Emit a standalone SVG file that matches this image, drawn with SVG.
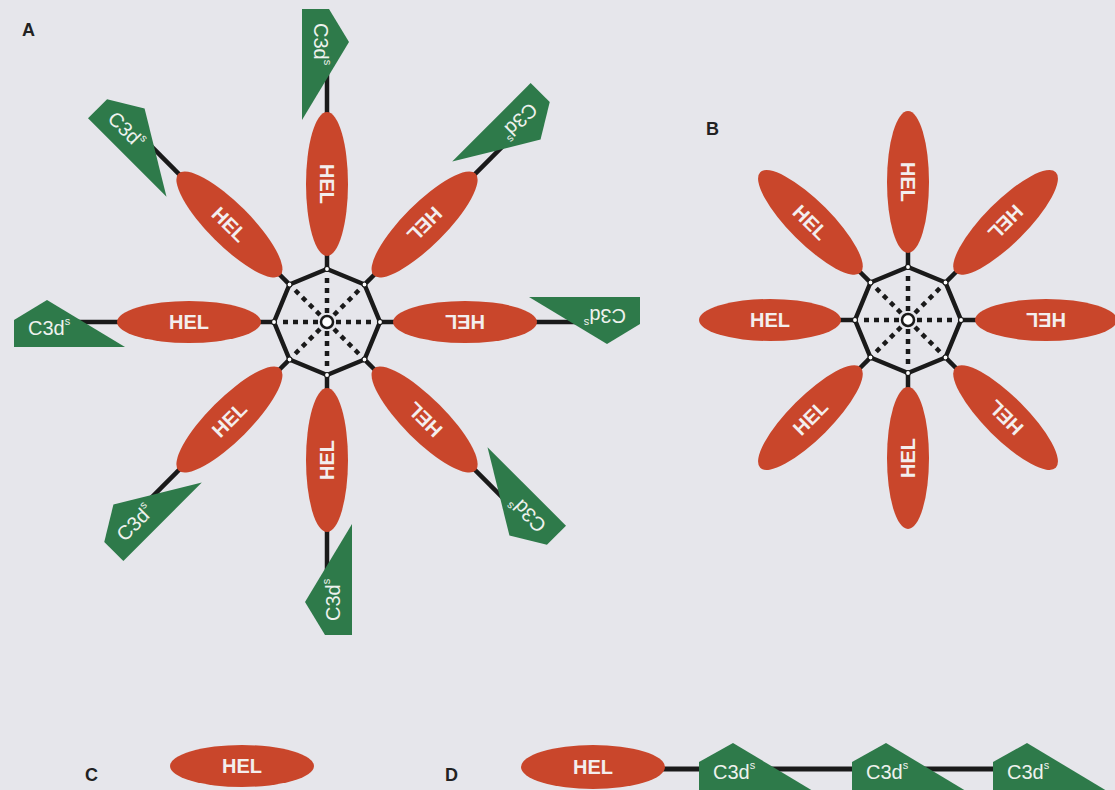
<svg xmlns="http://www.w3.org/2000/svg" width="1115" height="790" viewBox="0 0 1115 790">
<style>
.bg{fill:#e6e6eb}
.hel{fill:#c9462b}
.tag{fill:#2e7a4a}
.lbl{font-family:"Liberation Sans",Arial,sans-serif;font-weight:bold;font-size:18px;fill:#222}
.ht{font-family:"Liberation Sans",Arial,sans-serif;font-weight:bold;font-size:20px;fill:#f3eeee;text-anchor:middle}
.ct{font-family:"Liberation Sans",Arial,sans-serif;font-size:20px;fill:#eef2ee}
.sup{font-size:11px}
.ln{stroke:#1a1a1a;stroke-width:4.5;fill:none}
.oct{stroke:#1a1a1a;stroke-width:4.5;fill:none;stroke-linejoin:round}
.sp{stroke:#1a1a1a;stroke-width:4.5;stroke-dasharray:5 5;fill:none}
.hub{fill:#fff;stroke:#1a1a1a;stroke-width:2.5}
.cm{fill:#fff;stroke:#1a1a1a;stroke-width:1.2}
</style>
<defs>
<g id="hubShape">
<line class="sp" x1="9" y1="0" x2="49" y2="0"/>
<line class="sp" x1="-9" y1="0" x2="-49" y2="0"/>
<line class="sp" x1="0" y1="9" x2="0" y2="49"/>
<line class="sp" x1="0" y1="-9" x2="0" y2="-49"/>
<line class="sp" x1="7" y1="7" x2="34" y2="34"/>
<line class="sp" x1="-7" y1="7" x2="-34" y2="34"/>
<line class="sp" x1="7" y1="-7" x2="34" y2="-34"/>
<line class="sp" x1="-7" y1="-7" x2="-34" y2="-34"/>
<polygon class="oct" points="53,0 37.5,37.5 0,53 -37.5,37.5 -53,0 -37.5,-37.5 0,-53 37.5,-37.5"/>
<circle class="hub" cx="0" cy="0" r="6"/>
<g class="cm">
<circle cx="53" cy="0" r="2.5"/><circle cx="37.5" cy="37.5" r="2.5"/><circle cx="0" cy="53" r="2.5"/><circle cx="-37.5" cy="37.5" r="2.5"/>
<circle cx="-53" cy="0" r="2.5"/><circle cx="-37.5" cy="-37.5" r="2.5"/><circle cx="0" cy="-53" r="2.5"/><circle cx="37.5" cy="-37.5" r="2.5"/>
</g>
</g>
</defs>
<rect class="bg" x="0" y="0" width="1115" height="790"/>

<g id="connectors">
<g transform="translate(327,322)">
<use href="#hubShape"/>
<line class="ln" x1="-55" y1="0" x2="-70" y2="0"/>
<line class="ln" x1="-55" y1="0" x2="-70" y2="0" transform="rotate(45)"/>
<line class="ln" x1="-55" y1="0" x2="-70" y2="0" transform="rotate(90)"/>
<line class="ln" x1="-55" y1="0" x2="-70" y2="0" transform="rotate(135)"/>
<line class="ln" x1="-55" y1="0" x2="-70" y2="0" transform="rotate(180)"/>
<line class="ln" x1="-55" y1="0" x2="-70" y2="0" transform="rotate(225)"/>
<line class="ln" x1="-55" y1="0" x2="-70" y2="0" transform="rotate(270)"/>
<line class="ln" x1="-55" y1="0" x2="-70" y2="0" transform="rotate(315)"/>
<line class="ln" x1="-205" y1="0" x2="-255" y2="0"/>
<line class="ln" x1="-205" y1="0" x2="-255" y2="0" transform="rotate(45)"/>
<line class="ln" x1="-205" y1="0" x2="-255" y2="0" transform="rotate(90)"/>
<line class="ln" x1="-205" y1="0" x2="-255" y2="0" transform="rotate(135)"/>
<line class="ln" x1="-205" y1="0" x2="-255" y2="0" transform="rotate(180)"/>
<line class="ln" x1="-205" y1="0" x2="-255" y2="0" transform="rotate(225)"/>
<line class="ln" x1="-205" y1="0" x2="-255" y2="0" transform="rotate(270)"/>
<line class="ln" x1="-205" y1="0" x2="-255" y2="0" transform="rotate(315)"/>
</g>
<g transform="translate(908,320)">
<use href="#hubShape"/>
<line class="ln" x1="-55" y1="0" x2="-70" y2="0"/>
<line class="ln" x1="-55" y1="0" x2="-70" y2="0" transform="rotate(45)"/>
<line class="ln" x1="-55" y1="0" x2="-70" y2="0" transform="rotate(90)"/>
<line class="ln" x1="-55" y1="0" x2="-70" y2="0" transform="rotate(135)"/>
<line class="ln" x1="-55" y1="0" x2="-70" y2="0" transform="rotate(180)"/>
<line class="ln" x1="-55" y1="0" x2="-70" y2="0" transform="rotate(225)"/>
<line class="ln" x1="-55" y1="0" x2="-70" y2="0" transform="rotate(270)"/>
<line class="ln" x1="-55" y1="0" x2="-70" y2="0" transform="rotate(315)"/>
</g>
<line class="ln" x1="660" y1="769" x2="1000" y2="769" style="stroke-width:5"/>
</g>

<text class="lbl" x="22" y="36">A</text>
<text class="lbl" x="706" y="135">B</text>
<text class="lbl" x="85" y="781">C</text>
<text class="lbl" x="445" y="781">D</text>

<g transform="translate(327,322)">
<g id="A-hel-1"><ellipse class="hel" cx="-138" cy="0" rx="72" ry="21"/><text class="ht" x="-138" y="7">HEL</text></g>
<g id="A-hel-2" transform="rotate(45)"><ellipse class="hel" cx="-138" cy="0" rx="72" ry="21"/><text class="ht" x="-138" y="7">HEL</text></g>
<g id="A-hel-3" transform="rotate(90)"><ellipse class="hel" cx="-138" cy="0" rx="72" ry="21"/><text class="ht" x="-138" y="7">HEL</text></g>
<g id="A-hel-4" transform="rotate(135)"><ellipse class="hel" cx="-138" cy="0" rx="72" ry="21"/><text class="ht" x="-138" y="7">HEL</text></g>
<g id="A-hel-5" transform="rotate(180)"><ellipse class="hel" cx="-138" cy="0" rx="72" ry="21"/><text class="ht" x="-138" y="7">HEL</text></g>
<g id="A-hel-6" transform="rotate(225)"><ellipse class="hel" cx="-138" cy="0" rx="72" ry="21"/><text class="ht" x="-138" y="7">HEL</text></g>
<g id="A-hel-7" transform="rotate(270)"><ellipse class="hel" cx="-138" cy="0" rx="72" ry="21"/><text class="ht" x="-138" y="7">HEL</text></g>
<g id="A-hel-8" transform="rotate(315)"><ellipse class="hel" cx="-138" cy="0" rx="72" ry="21"/><text class="ht" x="-138" y="7">HEL</text></g>

<g id="A-c3d-1"><polygon class="tag" points="-313,-2 -280,-22 -202,25 -313,25"/><text class="ct" x="-299" y="13">C3d<tspan class="sup" dy="-10">s</tspan></text></g>
<g id="A-c3d-2" transform="rotate(45)"><polygon class="tag" points="-313,-2 -280,-22 -202,25 -313,25"/><text class="ct" x="-299" y="13">C3d<tspan class="sup" dy="-10">s</tspan></text></g>
<g id="A-c3d-3" transform="rotate(90)"><polygon class="tag" points="-313,-2 -280,-22 -202,25 -313,25"/><text class="ct" x="-299" y="13">C3d<tspan class="sup" dy="-10">s</tspan></text></g>
<g id="A-c3d-4" transform="rotate(135)"><polygon class="tag" points="-313,-2 -280,-22 -202,25 -313,25"/><text class="ct" x="-299" y="13">C3d<tspan class="sup" dy="-10">s</tspan></text></g>
<g id="A-c3d-5" transform="rotate(180)"><polygon class="tag" points="-313,-2 -280,-22 -202,25 -313,25"/><text class="ct" x="-299" y="13">C3d<tspan class="sup" dy="-10">s</tspan></text></g>
<g id="A-c3d-6" transform="rotate(225)"><polygon class="tag" points="-313,-2 -280,-22 -202,25 -313,25"/><text class="ct" x="-299" y="13">C3d<tspan class="sup" dy="-10">s</tspan></text></g>
<g id="A-c3d-7" transform="rotate(270)"><polygon class="tag" points="-313,-2 -280,-22 -202,25 -313,25"/><text class="ct" x="-299" y="13">C3d<tspan class="sup" dy="-10">s</tspan></text></g>
<g id="A-c3d-8" transform="rotate(315)"><polygon class="tag" points="-313,-2 -280,-22 -202,25 -313,25"/><text class="ct" x="-299" y="13">C3d<tspan class="sup" dy="-10">s</tspan></text></g>
</g>

<g transform="translate(908,320)">
<g id="B-hel-1"><ellipse class="hel" cx="-138" cy="0" rx="71" ry="21"/><text class="ht" x="-138" y="7">HEL</text></g>
<g id="B-hel-2" transform="rotate(45)"><ellipse class="hel" cx="-138" cy="0" rx="71" ry="21"/><text class="ht" x="-138" y="7">HEL</text></g>
<g id="B-hel-3" transform="rotate(90)"><ellipse class="hel" cx="-138" cy="0" rx="71" ry="21"/><text class="ht" x="-138" y="7">HEL</text></g>
<g id="B-hel-4" transform="rotate(135)"><ellipse class="hel" cx="-138" cy="0" rx="71" ry="21"/><text class="ht" x="-138" y="7">HEL</text></g>
<g id="B-hel-5" transform="rotate(180)"><ellipse class="hel" cx="-138" cy="0" rx="71" ry="21"/><text class="ht" x="-138" y="7">HEL</text></g>
<g id="B-hel-6" transform="rotate(225)"><ellipse class="hel" cx="-138" cy="0" rx="71" ry="21"/><text class="ht" x="-138" y="7">HEL</text></g>
<g id="B-hel-7" transform="rotate(270)"><ellipse class="hel" cx="-138" cy="0" rx="71" ry="21"/><text class="ht" x="-138" y="7">HEL</text></g>
<g id="B-hel-8" transform="rotate(315)"><ellipse class="hel" cx="-138" cy="0" rx="71" ry="21"/><text class="ht" x="-138" y="7">HEL</text></g>
</g>

<g id="C-hel"><ellipse class="hel" cx="242" cy="766" rx="72" ry="21"/><text class="ht" x="242" y="773">HEL</text></g>

<g id="D-hel"><ellipse class="hel" cx="593" cy="767" rx="72" ry="22"/><text class="ht" x="593" y="774">HEL</text></g>
<g id="D-c3d-1"><polygon class="tag" points="699,762 733,743 813,791 699,791"/><text class="ct" x="713" y="779">C3d<tspan class="sup" dy="-10">s</tspan></text></g>
<g id="D-c3d-2"><polygon class="tag" points="852,762 886,743 966,791 852,791"/><text class="ct" x="866" y="779">C3d<tspan class="sup" dy="-10">s</tspan></text></g>
<g id="D-c3d-3"><polygon class="tag" points="993,762 1027,743 1107,791 993,791"/><text class="ct" x="1007" y="779">C3d<tspan class="sup" dy="-10">s</tspan></text></g>
</svg>
